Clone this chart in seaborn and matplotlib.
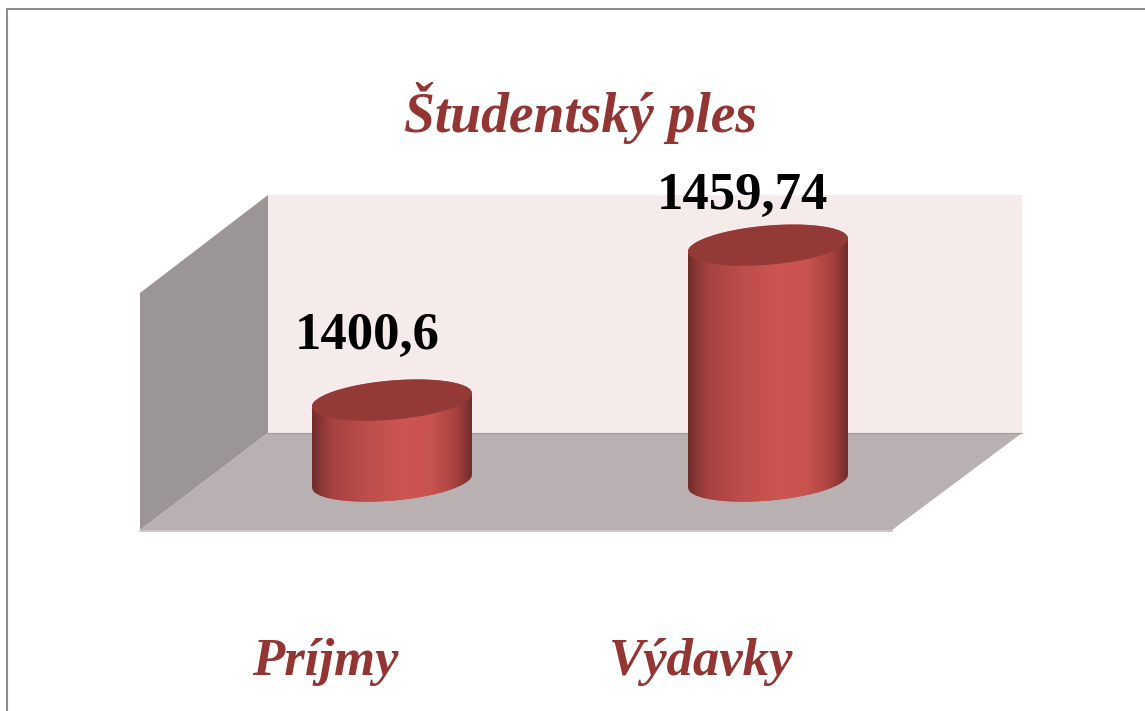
import numpy as np
import pandas as pd
import seaborn as sns
import matplotlib
matplotlib.use("Agg")
import matplotlib.pyplot as plt
from matplotlib.colors import LinearSegmentedColormap
from matplotlib.lines import Line2D
from matplotlib.patches import Polygon
from matplotlib.transforms import ScaledTranslation

# Data
categories = ["Príjmy", "Výdavky"]
values = [1400.6, 1459.74]
value_labels = ["1400,6", "1459,74"]
chart_title = "Študentský ples"

W, H = 1145, 711
TITLE_COLOR = "#933533"
FONT = "Liberation Serif"

sns.set_theme(style="white")
plt.rcParams["font.family"] = [FONT, "DejaVu Sans"]


def px(points):
    # reference pixels -> figure fraction
    return [(x / W, 1 - y / H) for x, y in points]


fig = plt.figure(figsize=(W / 100, H / 100), dpi=100, facecolor="white")

# 3D box behind the bars
box = [([(268, 195), (1022, 195), (1022, 433), (268, 433)], "#f6ebeb"),
       ([(140, 293), (268, 195), (268, 433), (140, 530)], "#9b9595"),
       ([(140, 530), (268, 433), (1022, 433), (892, 530)], "#b8b0b1")]
for pts, col in box:
    fig.add_artist(Polygon(px(pts), transform=fig.transFigure, fc=col, ec="none", zorder=-3))
fig.add_artist(Line2D([140 / W, 892 / W], [1 - 530.5 / H] * 2, color="#cbc6c6", lw=1.5, zorder=-2))
fig.add_artist(Line2D([268 / W, 1022 / W], [1 - 433 / H] * 2, color="#a09a9a", lw=0.8, zorder=-2))

# frame of the slide
fig.add_artist(Line2D([7 / W, 7 / W, 1 + 0.01], [0 - 0.01, 1 - 9 / H, 1 - 9 / H],
                      color="#8c8c8c", lw=1.5, zorder=-2))

# axes placed so that bars land on the floor of the box
ax = fig.add_axes([204 / W, 1 - 530 / H, 752 / W, 335 / H])
ax.patch.set_visible(False)

df = pd.DataFrame({"cat": categories, "val": values})
sns.barplot(data=df, x="cat", y="val", color="#c0504d", saturation=1,
            width=0.4255, ax=ax)
bars = list(ax.patches)

y_min, y_max = 1351.0, 1478.9
ax.set_xlim(-0.5, 1.5)
ax.set_ylim(y_min, y_max)
base = 1369.7

px_y = 335 / (y_max - y_min)

shade = LinearSegmentedColormap.from_list("cyl", [
    (0.00, "#6f2d2c"), (0.03, "#7f3331"), (0.12, "#a54240"), (0.35, "#bd4e4b"),
    (0.58, "#cd5552"), (0.74, "#c9534f"), (0.90, "#a8423f"), (0.98, "#7c3130"),
    (1.00, "#6f2d2c")])

t = np.linspace(0, 2 * np.pi, 181)
for bar in bars:
    x0, w = bar.get_x(), bar.get_width()
    top = bar.get_height()
    xc = x0 + w / 2

    def rim(level, tt):
        xs = xc + w / 2 * np.cos(tt)
        ys = level + (6.5 * np.cos(tt) + 19.6 * np.sin(tt)) / px_y
        return np.column_stack([xs, ys])

    low = rim(base, t[(t >= np.pi)])
    up = rim(top, t[(t <= np.pi)])
    body = Polygon(np.vstack([low, up]), closed=True, fc="none", ec="none",
                   transform=ax.transData)
    ax.add_patch(body)
    bar.set_clip_path(body)

    img = ax.imshow(np.linspace(0, 1, 256)[None, :], cmap=shade, aspect="auto",
                    extent=(x0, x0 + w, y_min, y_max), zorder=3,
                    interpolation="bilinear")
    img.set_clip_path(body)

    ax.add_patch(Polygon(rim(top, t), closed=True, fc="#933a37", ec="none", zorder=4))

ax.set_xlim(-0.5, 1.5)
ax.set_ylim(y_min, y_max)

# value labels
label_offsets = [(-25, 64), (-26, 49)]
for bar, text, off in zip(bars, value_labels, label_offsets):
    ax.annotate(text, (bar.get_x() + bar.get_width() / 2, bar.get_height()),
                xytext=(off[0] * 0.72, off[1] * 0.72), textcoords="offset points",
                ha="center", va="center", fontsize=38, fontweight="bold",
                color="black", zorder=6, annotation_clip=False)

# category labels, they sit left of the bars in the reference
ax.set_xlabel("")
ax.set_ylabel("")
ax.set_yticks([])
ax.tick_params(axis="x", length=0, pad=78)
shift = ScaledTranslation(-67 / 100, 0, fig.dpi_scale_trans)
for lab in ax.get_xticklabels():
    lab.set_fontsize(38)
    lab.set_fontweight("bold")
    lab.set_fontstyle("italic")
    lab.set_color(TITLE_COLOR)
    lab.set_transform(lab.get_transform() + shift)
sns.despine(ax=ax, left=True, bottom=True)

fig.text(581 / W, 1 - 113 / H, chart_title, ha="center", va="center",
         fontsize=40, fontweight="bold", fontstyle="italic", color=TITLE_COLOR)

fig.savefig("out.png", dpi=100)
